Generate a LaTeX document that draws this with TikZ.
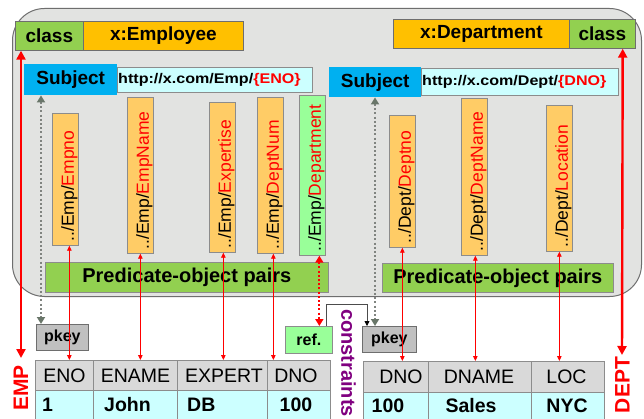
\documentclass[tikz,border=0pt]{standalone}
\usepackage{fontspec}
\setmainfont{Liberation Sans}
\newfontfamily\widefont{Liberation Sans}[FakeStretch=1.15]
\usetikzlibrary{arrows.meta}

\newcommand\setfs[1]{\fontsize{#1}{#1}\selectfont}

\definecolor{framefill}{RGB}{226,227,225}
\definecolor{framedraw}{RGB}{110,110,110}
\definecolor{classgreen}{RGB}{146,208,80}
\definecolor{typeorange}{RGB}{255,192,0}
\definecolor{subjblue}{RGB}{0,176,240}
\definecolor{urlcyan}{RGB}{204,255,255}
\definecolor{predorange}{RGB}{255,204,102}
\definecolor{reflgreen}{RGB}{153,255,153}
\definecolor{keygray}{RGB}{192,192,192}
\definecolor{headgray}{RGB}{217,217,217}
\definecolor{cellline}{RGB}{140,140,140}
\definecolor{boxline}{RGB}{110,110,110}
\definecolor{dotgray}{RGB}{128,132,128}
\definecolor{tipgray}{RGB}{105,118,105}
\definecolor{purp}{RGB}{128,0,128}

\begin{document}
\begin{tikzpicture}[x=1pt,y=-1pt,
  box/.style={draw=boxline, line width=0.7pt, inner sep=0pt, anchor=north west},
  sz/.style 2 args={minimum width=#1pt, minimum height=#2pt},
  classbox/.style={box, fill=classgreen, font=\bfseries\setfs{19}},
  typebox/.style={box, fill=typeorange, font=\bfseries\setfs{19}},
  subjbox/.style={inner sep=0pt, anchor=north west, fill=subjblue, font=\bfseries\setfs{19}},
  urlbox/.style={box, draw=cellline, fill=urlcyan},
  urltext/.style={anchor=west, inner sep=0pt, font=\widefont\bfseries\setfs{14}},
  pred/.style={box, draw=cellline, fill=predorange, minimum width=26pt},
  refpred/.style={box, draw=cellline, fill=reflgreen, minimum width=26pt},
  plabel/.style={rotate=90, anchor=west, inner sep=0pt, font=\setfs{17.5}},
  pobox/.style={box, draw=cellline, fill=classgreen, font=\bfseries\setfs{20}},
  keybox/.style={box, draw=boxline, fill=keygray, font=\bfseries\setfs{16}},
  refbox/.style={box, draw=cellline, fill=reflgreen, font=\bfseries\setfs{16}},
  hcell/.style={box, draw=cellline, fill=headgray, minimum height=30pt},
  dcell/.style={box, draw=cellline, fill=urlcyan, minimum height=32pt},
  htext/.style={anchor=base, inner sep=0pt, font=\setfs{19.5}},
  dtext/.style={anchor=base, inner sep=0pt, font=\bfseries\setfs{19.5}},
  redarrow/.style={draw=red, line width=2.4pt,
    arrows={Triangle[length=9pt,width=9pt]-Triangle[length=9pt,width=9pt]}},
  predlink/.style={draw=red, line width=0.8pt,
    arrows={Triangle[length=5pt,width=4.5pt]-Triangle[length=5pt,width=4.5pt]}},
  keylink/.style={draw=dotgray, line width=2.2pt, dash pattern=on 2pt off 2.2pt,
    arrows={Triangle[length=7pt,width=8pt,color=tipgray]-Triangle[length=7pt,width=8pt,color=tipgray]}},
  reflink/.style={draw=red, line width=2.2pt, dash pattern=on 2pt off 2.2pt,
    arrows={Triangle[length=7pt,width=8pt]-Triangle[length=7pt,width=8pt]}},
  conlink/.style={draw=black!70, line width=0.8pt,
    arrows={-Triangle[length=5pt,width=5pt,color=black]}},
  sidelabel/.style={inner sep=0pt, text=red, font=\bfseries\setfs{21}}
]
\useasboundingbox (0,0) rectangle (644,419);
\clip (0,0) rectangle (644,419);
\fill[white] (0,0) rectangle (644,419);

% rounded panel holding both mappings
\node[box, draw=framedraw, line width=1pt, fill=framefill, rounded corners=32pt,
      sz={629}{288}] (panel) at (12,8) {};

% class declarations
\node[classbox, sz={68}{29}] (empclass) at (15,21) {class};
\node[typebox, sz={160}{29}] (emptype) at (83,21) {x:Employee};
\node[typebox, sz={176}{29}] (deptype) at (393,19) {x:Department};
\node[classbox, sz={66}{29}] (depclass) at (569,19) {class};

% subject templates
\node[urlbox, sz={195}{25}] (empurl) at (117,67) {};
\node[urltext] (empurltext) at ([xshift=1pt]empurl.west) {http://x.com/Emp/\textcolor{red}{\{ENO\}}};
\node[subjbox, sz={93}{31}] (empsubj) at (24,64) {Subject};
\node[urlbox, sz={197}{27}] (depurl) at (421,68) {};
\node[urltext] (depurltext) at ([xshift=1pt]depurl.west) {http://x.com/Dept/\textcolor{red}{\{DNO\}}};
\node[subjbox, sz={92}{30}] (depsubj) at (329,67) {Subject};

% predicates of Employee
\node[pred, minimum height=132pt] (p1) at (52,113) {};
\node[pred, minimum height=156pt] (p2) at (127,97) {};
\node[pred, minimum height=150pt] (p3) at (209,102) {};
\node[pred, minimum height=156pt] (p4) at (257,97) {};
\node[refpred, minimum height=160pt] (p5) at (299,95) {};
\node[plabel] (p1t) at ([xshift=4pt,yshift=4pt]p1.south) {../Emp/\textcolor{red}{Empno}};
\node[plabel] (p2t) at ([xshift=4pt,yshift=4pt]p2.south) {../Emp/\textcolor{red}{EmpName}};
\node[plabel] (p3t) at ([xshift=4pt,yshift=4pt]p3.south) {../Emp/\textcolor{red}{Expertise}};
\node[plabel] (p4t) at ([xshift=4pt,yshift=4pt]p4.south) {../Emp/\textcolor{red}{DeptNum}};
\node[plabel] (p5t) at ([xshift=4pt,yshift=4pt]p5.south) {../Emp/\textcolor{red}{Department}};

% predicates of Department
\node[pred, minimum height=132pt] (q1) at (389,115) {};
\node[pred, minimum height=157pt] (q2) at (461,98) {};
\node[pred, minimum height=146pt] (q3) at (546,105) {};
\node[plabel] (q1t) at ([xshift=4pt,yshift=4pt]q1.south) {../Dept/\textcolor{red}{Deptno}};
\node[plabel] (q2t) at ([xshift=4pt,yshift=4pt]q2.south) {../Dept/\textcolor{red}{DeptName}};
\node[plabel] (q3t) at ([xshift=4pt,yshift=4pt]q3.south) {../Dept/\textcolor{red}{Location}};

% predicate-object bars
\node[pobox, sz={283}{30}] (emppo) at (45,262) {Predicate-object pairs};
\node[pobox, sz={231}{29}] (deppo) at (382,263) {Predicate-object pairs};

% keys and reference
\node[keybox, sz={52}{26}] (pkey1) at (36,324) {pkey};
\node[refbox, sz={47}{27}] (refkey) at (285,326) {ref.};
\node[keybox, sz={54}{26}] (pkey2) at (362,326) {pkey};

% EMP table
\node[hcell, minimum width=58pt] (eh1) at (35,360) {};
\node[hcell, minimum width=84pt] (eh2) at (93,360) {};
\node[hcell, minimum width=90pt] (eh3) at (177,360) {};
\node[hcell, minimum width=63pt] (eh4) at (267,360) {};
\node[dcell, minimum width=58pt] (ed1) at (35,390) {};
\node[dcell, minimum width=84pt] (ed2) at (93,390) {};
\node[dcell, minimum width=90pt] (ed3) at (177,390) {};
\node[dcell, minimum width=63pt] (ed4) at (267,390) {};
\node[htext] (eh1t) at (64.5,382) {ENO};
\node[htext] (eh2t) at (135.5,382) {ENAME};
\node[htext] (eh3t) at (224,382) {EXPERT};
\node[htext] (eh4t) at (296,382) {DNO};
\node[dtext, anchor=base west] (ed1t) at (42,411) {1};
\node[dtext, anchor=base west] (ed2t) at (104,411) {John};
\node[dtext, anchor=base west] (ed3t) at (187,411) {DB};
\node[dtext] (ed4t) at (296,411) {100};

% DEPT table
\node[hcell, minimum width=65pt, minimum height=31pt] (dh1) at (363,361) {};
\node[hcell, minimum width=103pt, minimum height=31pt] (dh2) at (428,361) {};
\node[hcell, minimum width=73pt, minimum height=31pt] (dh3) at (531,361) {};
\node[dcell, minimum width=65pt] (dd1) at (363,392) {};
\node[dcell, minimum width=103pt] (dd2) at (428,392) {};
\node[dcell, minimum width=73pt] (dd3) at (531,392) {};
\node[htext] (dh1t) at (401,383) {DNO};
\node[htext] (dh2t) at (479,383) {DNAME};
\node[htext] (dh3t) at (566.5,383) {LOC};
\node[dtext] (dd1t) at (388,412) {100};
\node[dtext] (dd2t) at (471,412) {Sales};
\node[dtext] (dd3t) at (567,412) {NYC};

% side labels
\node[sidelabel, rotate=90] (emplabel) at (21,388) {EMP};
\node[sidelabel, rotate=90] (deplabel) at (622.5,385) {DEPT};
\node[rotate=-90, inner sep=0pt, text=purp, font=\bfseries\setfs{20}] (constr) at (348.5,363) {constraints};

% class links
\coordinate (empend) at (21,358);
\coordinate (depend) at (622,355);
\draw[redarrow] ([xshift=6pt]empclass.south west) -- (empend);
\draw[redarrow] ([xshift=-13pt]depclass.south east) -- (depend);

% subject to primary key
\coordinate (k1) at ([xshift=5pt]pkey1.north west);
\coordinate (k2) at ([xshift=13pt]pkey2.north west);
\draw[keylink] (k1 |- empsubj.south) -- (k1);
\draw[keylink] (k2 |- depsubj.south) -- (k2);

% predicates to columns
\coordinate (a1) at ([xshift=4pt]p1.south);
\coordinate (a2) at (p2.south);
\coordinate (a3) at ([xshift=1pt]p3.south);
\coordinate (a4) at ([xshift=3pt]p4.south);
\coordinate (b1) at (q1.south);
\coordinate (b2) at ([xshift=1pt]q2.south);
\coordinate (b3) at (q3.south);
\draw[predlink] (a1) -- (a1 |- eh1.north);
\draw[predlink] (a2) -- (a2 |- eh2.north);
\draw[predlink] (a3) -- (a3 |- eh3.north);
\draw[predlink] (a4) -- (a4 |- eh4.north);
\draw[predlink] (b1) -- (b1 |- dh1.north);
\draw[predlink] (b2) -- (b2 |- dh2.north);
\draw[predlink] (b3) -- (b3 |- dh3.north);

% reference predicate to foreign key
\coordinate (r1) at ([xshift=7pt]p5.south);
\draw[reflink] (r1) -- (r1 |- refkey.north);

% foreign key constraint
\coordinate (c1) at ([xshift=-6pt]refkey.north east);
\coordinate (cbend) at (0,304);
\coordinate (c3) at ([xshift=5pt]pkey2.north west);
\draw[conlink] (c1) -- (c1 |- cbend) -| (c3);
\end{tikzpicture}
\end{document}
